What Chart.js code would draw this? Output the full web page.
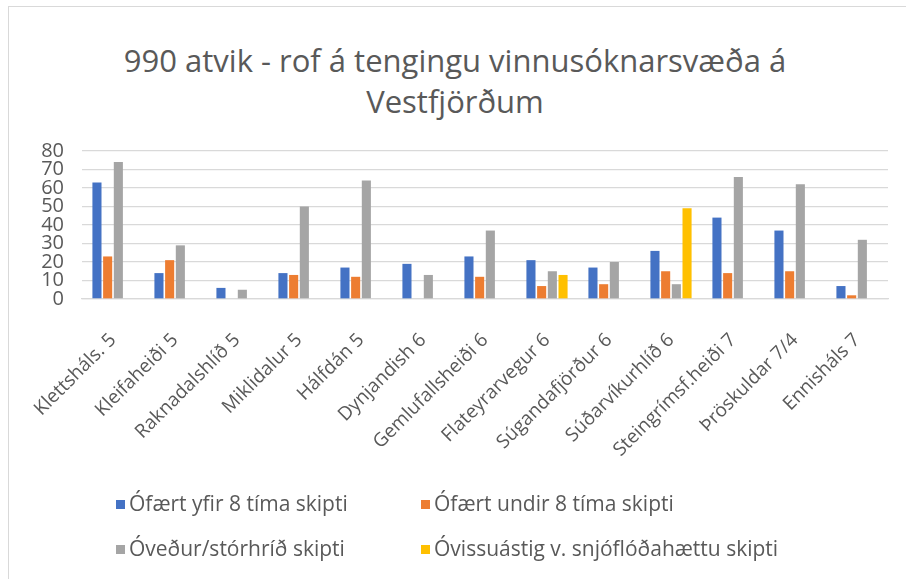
<!DOCTYPE html>
<html>
<head>
<meta charset="utf-8">
<script src="https://cdn.jsdelivr.net/npm/chart.js@4/dist/chart.umd.min.js"></script>
<style>
  html,body{margin:0;padding:0;background:#fff;}
  body{width:906px;height:579px;position:relative;overflow:hidden;font-family:"Open Sans",sans-serif;color:#595959;}
  #frame{position:absolute;left:8px;top:6px;width:1000px;height:1000px;border:1px solid #d9d9d9;}
  #title{position:absolute;left:0;top:40px;width:910px;text-align:center;font-size:31px;line-height:41px;}
  #wrap{position:absolute;left:0;top:0;width:906px;height:579px;}
  #legend{position:absolute;left:0;top:0;width:906px;height:579px;pointer-events:none;}
  .item{position:absolute;font-size:21px;line-height:24px;white-space:nowrap;}
  .item span{display:inline-block;width:9px;height:9px;margin-right:4px;vertical-align:2px;}
</style>
</head>
<body>
<div id="frame"></div>
<div id="title">990 atvik - rof á tengingu vinnusóknarsvæða á<br>Vestfjörðum</div>
<div id="wrap"><canvas id="chart" width="906" height="579"></canvas></div>
<div id="legend"></div>
<script>
// categories (road sections)
const categories = ['Klettsháls. 5','Kleifaheiði 5','Raknadalshlíð 5','Miklidalur 5','Hálfdán 5','Dynjandish 6','Gemlufallsheiði 6','Flateyrarvegur 6','Súgandafjörður 6','Súðarvíkurhlíð 6','Steingrímsf.heiði 7','Þröskuldar 7/4','Ennisháls 7'];

// series values
const ofaertYfir   = [63, 14, 6, 14, 17, 19, 23, 21, 17, 26, 44, 37, 7];
const ofaertUndir  = [23, 21, null, 13, 12, null, 12, 7, 8, 15, 14, 15, 2];
const ovedur       = [74, 29, 5, 50, 64, 13, 37, 15, 20, 8, 66, 62, 32];
const ovissustig   = [null, null, null, null, null, null, null, 13, null, 49, null, null, null];

const seriesNames  = ['Ófært yfir 8 tíma skipti','Ófært undir 8 tíma skipti','Óveður/stórhríð skipti','Óvissuástig v. snjóflóðahættu skipti'];
const seriesColors = ['#4472C4','#ED7D31','#A5A5A5','#FFC000'];
const yTicks = [0,10,20,30,40,50,60,70,80];

const values = [ofaertYfir, ofaertUndir, ovedur, ovissustig];

const ctx = document.getElementById('chart').getContext('2d');
new Chart(ctx, {
  type: 'bar',
  data: {
    labels: categories,
    datasets: values.map((v,i)=>({
      label: seriesNames[i],
      data: v,
      backgroundColor: seriesColors[i],
      categoryPercentage: 0.69,
      barPercentage: 0.85
    }))
  },
  options: {
    responsive: false,
    animation: false,
    layout: { padding: { top: 151, right: 18, left: 0, bottom: 0 } },
    plugins: { legend: { display: false }, tooltip: { enabled: false }, title: { display: false } },
    scales: {
      x: {
        grid: { display: false },
        border: { color: '#d9d9d9', width: 1.3 },
        ticks: { color: '#595959', font: { family: 'Open Sans', size: 19 }, minRotation: 45, maxRotation: 45, autoSkip: false, padding: 22 },
        afterFit: s => { s.height = 280; }
      },
      y: {
        min: 0, max: 80,
        afterBuildTicks: s => { s.ticks = yTicks.map(v=>({value:v})); },
        grid: { color: '#d9d9d9', lineWidth: 1.3, drawTicks: false },
        border: { display: false },
        ticks: { color: '#595959', font: { family: 'Open Sans', size: 20, lineHeight: 1 }, padding: 18, autoSkip: false },
        afterFit: s => { s.width = 82; }
      }
    }
  }
});

// legend in two columns, two rows
const legend = document.getElementById('legend');
const pos = [[116,491],[421,491],[116,536],[421,536]];
seriesNames.forEach((n,i)=>{
  const d = document.createElement('div');
  d.className = 'item';
  d.style.left = pos[i][0]+'px';
  d.style.top = pos[i][1]+'px';
  d.innerHTML = '<span style="background:'+seriesColors[i]+'"></span>' + n;
  legend.appendChild(d);
});
</script>
</body>
</html>
